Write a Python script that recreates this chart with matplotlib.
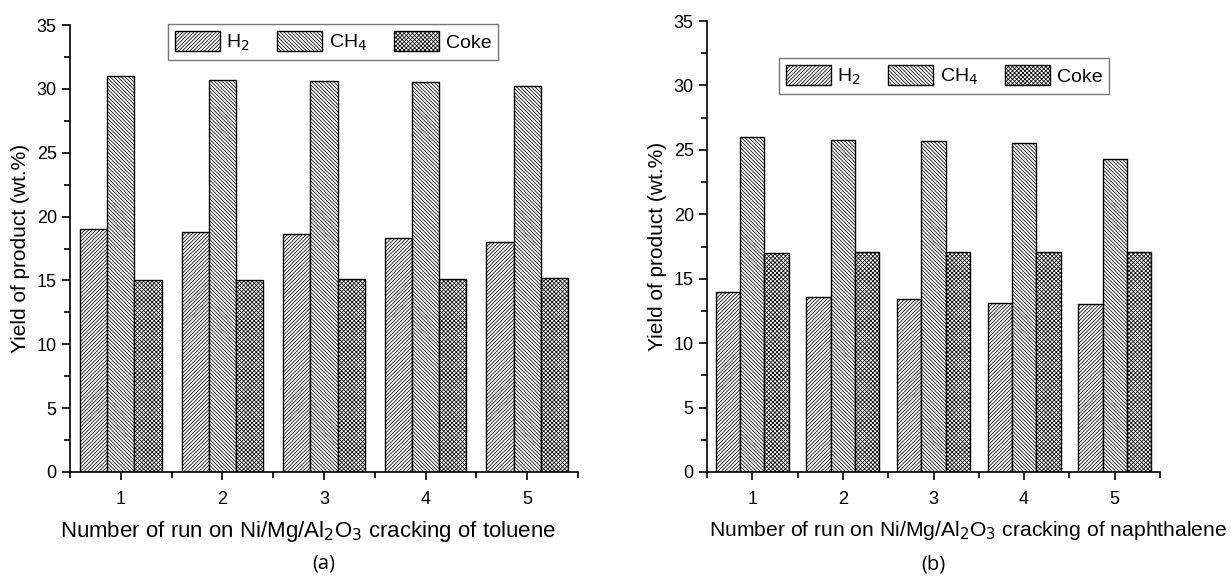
import matplotlib.pyplot as plt
import numpy as np
from matplotlib.ticker import MultipleLocator

plt.rcParams['font.family'] = ['Liberation Sans Narrow', 'Liberation Sans', 'DejaVu Sans']
plt.rcParams['hatch.linewidth'] = 0.55

runs = [1, 2, 3, 4, 5]
series = ['H$_2$', 'CH$_4$', 'Coke']

# (a) toluene
toluene_h2 = [19.0, 18.8, 18.6, 18.3, 18.0]
toluene_ch4 = [31.0, 30.7, 30.6, 30.5, 30.2]
toluene_coke = [15.0, 15.0, 15.1, 15.15, 15.2]

# (b) naphthalene
naph_h2 = [14.0, 13.6, 13.4, 13.1, 13.0]
naph_ch4 = [26.0, 25.8, 25.7, 25.5, 24.3]
naph_coke = [17.0, 17.05, 17.05, 17.1, 17.1]

hatches = ['/' * 9, '\\' * 9, 'x' * 8]

fig = plt.figure(figsize=(12.31, 5.78), dpi=100)
W, H = 1231, 578
ax1 = fig.add_axes([70 / W, 1 - 472 / H, (578 - 70) / W, (472 - 25) / H])
ax2 = fig.add_axes([707 / W, 1 - 472 / H, (1160 - 707) / W, (472 - 21) / H])


def draw(ax, data, xlabel, xlab_x, xlab_size, tag, legend_center):
    x = np.array(runs)
    w = 0.268
    handles = []
    for i, (vals, hat) in enumerate(zip(data, hatches)):
        b = ax.bar(x + (i - 1) * w, vals, width=w, color='white', edgecolor='black',
                   hatch=hat, linewidth=1.0, label=series[i])
        handles.append(b)
    ax.set_xlim(0.5, 5.5)
    ax.set_ylim(0, 35)
    ax.set_xticks(runs)
    ax.xaxis.set_minor_locator(MultipleLocator(1.0, offset=0.5))
    ax.yaxis.set_major_locator(MultipleLocator(5))
    ax.yaxis.set_minor_locator(MultipleLocator(2.5))
    for s in ['top', 'right']:
        ax.spines[s].set_visible(False)
    for s in ['left', 'bottom']:
        ax.spines[s].set_linewidth(1.2)
    ax.tick_params(which='major', direction='out', length=6, width=1.2, labelsize=13)
    ax.tick_params(which='minor', direction='out', length=4, width=1.2)
    ax.tick_params(axis='x', pad=8)
    ax.set_xlabel(xlabel, fontsize=xlab_size)
    ax.xaxis.set_label_coords(xlab_x, -0.105)
    ax.set_ylabel('Yield of product (wt.%)', fontsize=15)
    ax.yaxis.set_label_coords(-0.078 * 508 / ax.get_position().width / W, 0.5)
    leg = ax.legend(handles=handles, ncol=3, loc='center', bbox_to_anchor=legend_center,
                    fontsize=14, frameon=True, fancybox=False,
                    edgecolor='#555555', handlelength=2.3, handleheight=1.2,
                    columnspacing=1.4, handletextpad=0.35, borderpad=0.35, borderaxespad=0)
    leg.get_frame().set_linewidth(1.0)
    ax.text(0.5, -0.205, tag, transform=ax.transAxes, ha='center', va='center',
            fontsize=14.5, family=['Open Sans', 'DejaVu Sans'])


draw(ax1, [toluene_h2, toluene_ch4, toluene_coke],
     'Number of run on Ni/Mg/Al$_2$O$_3$ cracking of toluene', (308 - 70) / 508, 16, '(a)',
     ((333 - 70) / 508, (472 - 42) / 447))
draw(ax2, [naph_h2, naph_ch4, naph_coke],
     'Number of run on Ni/Mg/Al$_2$O$_3$ cracking of naphthalene', (968 - 707) / 453, 15.2, '(b)',
     ((944 - 707) / 453, (472 - 76) / 451))

fig.savefig('out.png', dpi=100)
